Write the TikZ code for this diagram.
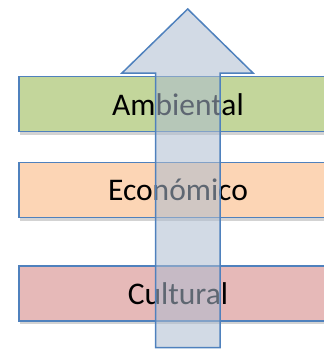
\documentclass[tikz,border=0pt]{standalone}
\usepackage{fontspec}
\setmainfont{Carlito}
\usetikzlibrary{shadows}
\definecolor{edgeblue}{HTML}{4F81BD}
\definecolor{ambgreen}{HTML}{C3D69B}
\definecolor{ecoorange}{HTML}{FCD5B5}
\definecolor{culpink}{HTML}{E6B9B8}
\definecolor{arrowfill}{HTML}{ADBCD0}
\begin{document}
\begin{tikzpicture}[x=1pt, y=-1pt,
  bar/.style={draw=edgeblue, line width=1.5pt, minimum width=318pt, minimum height=55pt,
    inner sep=0pt, font=\fontsize{31.5}{36}\selectfont,
    drop shadow={shadow xshift=0.5pt, shadow yshift=-3pt, opacity=0.35}}]

\clip (0,0) rectangle (324,349);

\node[bar, fill=ambgreen] (ambiental) at (178,104.2) {Ambiental};
\node[bar, fill=ecoorange] (economico) at (178,190) {Económico};
\node[bar, fill=culpink] (cultural) at (178,293.3) {Cultural};

\filldraw [draw=edgeblue, line width=1.5pt, fill=arrowfill, fill opacity=0.55, line join=miter]
  (155.7,347.5) -- (155.7,73) -- (122,73) -- (187.7,9) -- (253,73) -- (220,73) -- (220,347.5) -- cycle;

\end{tikzpicture}
\end{document}
